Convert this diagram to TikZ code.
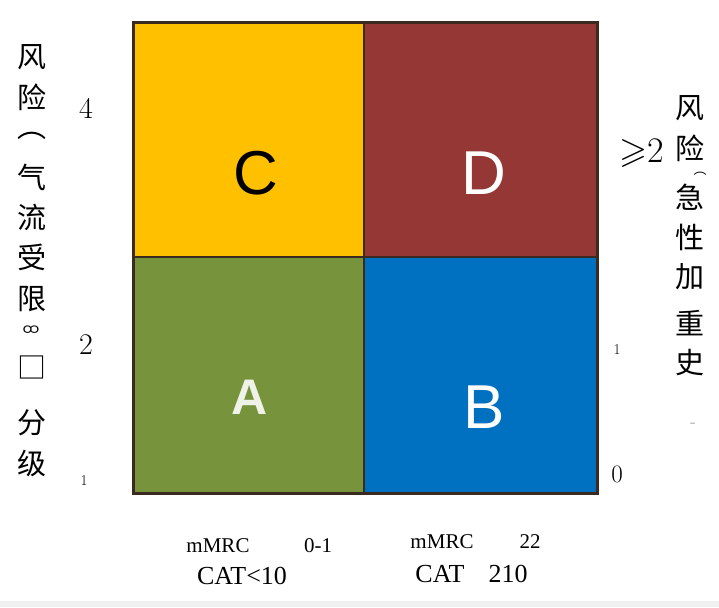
\documentclass[tikz,border=0pt]{standalone}
\usepackage{amssymb}
\usepackage{fontspec}
\newfontfamily\cjk{Noto Sans CJK SC}
\newfontfamily\tnr{Liberation Serif}
\newfontfamily\sans{Liberation Sans}
\newfontfamily\mya[Script=Myanmar]{Noto Sans Myanmar UI}
\usetikzlibrary{positioning}

\definecolor{cellC}{HTML}{FFC000}
\definecolor{cellD}{HTML}{953735}
\definecolor{cellA}{HTML}{77933C}
\definecolor{cellB}{HTML}{0070C0}
\definecolor{gridline}{HTML}{3B2A20}

\tikzset{
    letter/.style={inner sep=0pt, font=\sans\fontsize{62}{62}\selectfont},
    cjkchar/.style={inner sep=0pt, font=\cjk\fontsize{29}{29}\selectfont},
    tick/.style={inner sep=0pt, font=\fontsize{30}{30}\selectfont},
    smalltick/.style={inner sep=0pt, font=\fontsize{15}{15}\selectfont},
    axislab/.style={inner sep=0pt, font=\tnr\fontsize{21}{21}\selectfont},
    biglab/.style={inner sep=0pt, font=\tnr\fontsize{26}{26}\selectfont}
}

\begin{document}
\begin{tikzpicture}[x=1pt, y=-1pt]
    \useasboundingbox (0,0) rectangle (719,607);
    \fill[black!6] (0,601) rectangle (719,607);

    % The four cells
    \fill[cellC] (133,23) rectangle (364,257);
    \fill[cellD] (364,23) rectangle (597,257);
    \fill[cellA] (133,257) rectangle (364,493);
    \fill[cellB] (364,257) rectangle (597,493);
    \draw[gridline, line width=3pt] (133,23) rectangle (597,493);
    \draw[gridline, line width=2.5pt] (364,23) -- (364,493);
    \draw[gridline, line width=2.5pt] (133,257) -- (597,257);

    \node[letter] (C) at (256,173) {C};
    \node[letter, white] (D) at (484,173) {D};
    \node[letter, white] (B) at (484,407) {B};
    \node[inner sep=0pt, font=\sans\bfseries\fontsize{50}{50}\selectfont, text=white!88!cellA] (A) at (250,397) {A};

    % Left column
    \foreach \ch/\y [count=\i] in {风/57, 险/97, ︵/136, 气/177, 流/217, 受/257, 限/299, □/367, 分/423, 级/463}
        \node[cjkchar] (left\i) at (32,\y) {\ch};
    \node[inner sep=0pt, font=\mya\fontsize{15}{15}\selectfont] (leftmark) at (31,331) {ထ};

    \node[tick] (four) at (86,108) {4};
    \node[tick] (two) at (86,345) {2};
    \node[smalltick] (oneL) at (84,481) {1};

    % Right column
    \foreach \ch/\y [count=\i] in {风/108, 险/148, 急/197, 性/237, 加/277, 重/323, 史/363}
        \node[cjkchar] (right\i) at (690,\y) {\ch};
    \node[inner sep=0pt, font=\cjk\fontsize{13}{13}\selectfont] (rparen) at (700,174) {︵};
    \node[inner sep=0pt, text=black!45, font=\fontsize{18}{18}\selectfont] (rdash) at (693,425) {-};

    \node[inner sep=0pt, font=\fontsize{36}{36}\selectfont] (geq) at (642,153) {$\geqslant$2};
    \node[smalltick] (oneR) at (617,350) {1};
    \node[inner sep=0pt, font=\fontsize{25}{25}\selectfont] (zero) at (617,474) {0};

    % Bottom labels
    \node[axislab] (mmrcA) at (218,546) {mMRC};
    \node[axislab] (rangeA) at (318,546) {0-1};
    \node[biglab] (catA) at (242,576) {CAT<10};
    \node[axislab] (mmrcB) at (442,542) {mMRC};
    \node[axislab] (rangeB) at (530,542) {22};
    \node[biglab] (catB) at (440,574) {CAT};
    \node[biglab] (valB) at (508,574) {210};
\end{tikzpicture}
\end{document}
